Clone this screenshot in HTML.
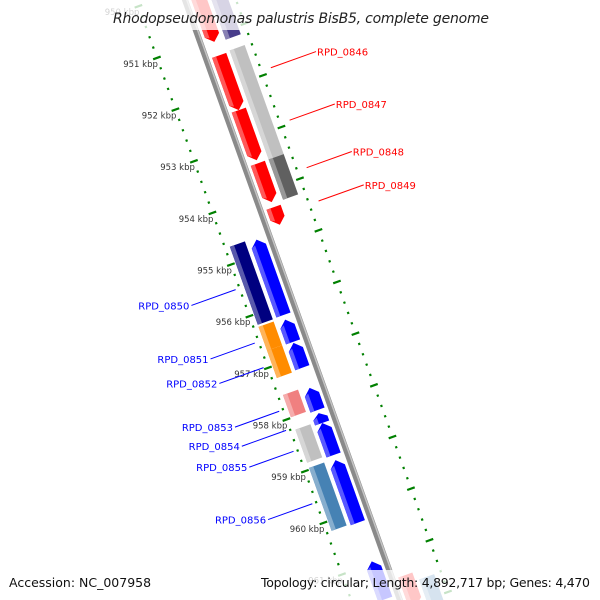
<!DOCTYPE html>
<html><head><meta charset="utf-8"><style>
html,body{margin:0;padding:0;background:#fff;width:600px;height:600px;overflow:hidden;}
svg{display:block;overflow:hidden;font-family:"DejaVu Sans","Liberation Sans",sans-serif;}
</style></head><body>
<svg id="map" width="600" height="600" viewBox="0 0 600 600" xmlns="http://www.w3.org/2000/svg">
<defs><clipPath id="frame"><rect x="0" y="0" width="600" height="600"/></clipPath></defs>
<rect x="0" y="0" width="600" height="600" fill="#fff"/>
<g clip-path="url(#frame)">
<g id="rot" transform="matrix(0.941,-0.337,0.337,0.941,185,0)"></g>
<g id="labels"></g>
</g>
<rect x="0" y="0" width="600" height="30" fill="#fff" fill-opacity="0.78"/>
<text x="113" y="23" font-size="14" font-style="italic" fill="#222" textLength="376">Rhodopseudomonas palustris BisB5, complete genome</text>
<rect x="0" y="570" width="600" height="30" fill="#fff" fill-opacity="0.78"/>
<text x="9" y="587" font-size="12.5" fill="#111">Accession: NC_007958</text>
<text x="261" y="587" font-size="12.5" fill="#111" textLength="329">Topology: circular; Length: 4,892,717 bp; Genes: 4,470</text>
</svg>
<script>
// gene data (kbp)
const fwdStart = [949.69, 951.34, 952.40, 953.43, 954.28, 961.40];
const fwdEnd   = [951.08, 952.40, 953.37, 954.18, 954.62, 962.00];
const fwdColor = ['#ff0000','#ff0000','#ff0000','#ff0000','#ff0000','#ff0000'];
const fwdLabel = ['', 'RPD_0846','RPD_0847','RPD_0848','RPD_0849',''];
const fwdCogStart = [949.82, 951.32, 953.43, 961.56];
const fwdCogEnd   = [951.11, 953.45, 954.21, 962.20];
const fwdCogColor = ['#483d8b','#c0c0c0','#606060','#4682b4'];
const revStart = [954.73, 956.28, 956.73, 957.60, 958.09, 958.28, 959.00, 960.96];
const revEnd   = [956.19, 956.71, 957.21, 958.03, 958.28, 958.90, 960.21, 961.69];
const revLabel = ['RPD_0850','RPD_0851','RPD_0852','RPD_0853','RPD_0854','RPD_0855','RPD_0856',''];
const revCogStart = [954.69, 956.24, 956.70, 957.56, 958.23, 958.97];
const revCogEnd   = [956.20, 956.70, 957.23, 957.99, 958.87, 960.19];
const revCogColor = ['#000080','#ff8c00','#ff8c00','#f08080','#c0c0c0','#4682b4'];
const tickKbp = [950, 951, 952, 953, 954, 955, 956, 957, 958, 959, 960, 961, 962];
const tickLabels = ['950 kbp','951 kbp','952 kbp','953 kbp','954 kbp','955 kbp','956 kbp','957 kbp','958 kbp','959 kbp','960 kbp','961 kbp','962 kbp'];

const NS='http://www.w3.org/2000/svg';
const rot=document.getElementById('rot');
const lab=document.getElementById('labels');
function S(k){return 45+(k-951)*54.9;}
function scr(v,s){return [185+0.941*v+0.337*s, -0.337*v+0.941*s];}
function mk(tag,attrs,parent){const e=document.createElementNS(NS,tag);for(const a in attrs)e.setAttribute(a,attrs[a]);parent.appendChild(e);return e;}
function lighten(c){const n=parseInt(c.slice(1),16);let r=n>>16,g=(n>>8)&255,b=n&255;r=Math.round(r+(255-r)*0.35);g=Math.round(g+(255-g)*0.35);b=Math.round(b+(255-b)*0.35);return 'rgb('+r+','+g+','+b+')';}

// backbone
let bb=mk('rect',{x:-3,y:-60,width:6,height:720,fill:'#8a8a8a'},rot);


let bb2=mk('rect',{x:1,y:-60,width:1.5,height:720,fill:'#c4c4c4'},rot);



function scaleLine(v,offset,name){
  for(let k=949;k<=962.4;k+=0.2){
    const kk=Math.round(k*10)/10;
    const s=S(kk+offset);
    const major=Math.abs(kk-Math.round(kk))<0.01;
    const r=mk('rect',major?{x:v-4,y:s-1,width:8,height:2.2,fill:'#008000'}:{x:v-1,y:s-1,width:2.2,height:2.2,fill:'#008000'},rot);
    
    
  }
}
scaleLine(-46,0,'left-scale');
scaleLine(48,0.95,'right-scale');

tickKbp.forEach((k,i)=>{
  const p=scr(-46,S(k));
  const t=mk('text',{x:p[0]+1,y:p[1]+9,'font-size':8.5,'text-anchor':'end',fill:'#333'},lab);
  t.textContent=tickLabels[i];
  
  
});

function gene(v0,v1,k0,k1,color,dir,name){
  const s0=S(k0),s1=S(k1);
  let h=Math.min(7,(s1-s0)*0.5);
  const vm=(v0+v1)/2;
  let pts;
  if(dir>0) pts=[[v0,s0],[v1,s0],[v1,s1-h],[vm,s1],[v0,s1-h]];
  else if(dir<0) pts=[[vm,s0],[v1,s0+h],[v1,s1],[v0,s1],[v0,s0+h]];
  else pts=[[v0,s0],[v1,s0],[v1,s1],[v0,s1]];
  const g=mk('g',{},rot);
  
  
  mk('polygon',{points:pts.map(p=>p.join(',')).join(' '),fill:color},g);
  const w=(v1-v0)*0.28;
  let hp;
  if(dir>0) hp=[[v0,s0],[v0+w,s0],[v0+w,s1-h*0.7],[v0,s1-h]];
  else if(dir<0) hp=[[v0,s0+h],[v0+w,s0+h*0.7],[v0+w,s1],[v0,s1]];
  else hp=[[v0,s0],[v0+w,s0],[v0+w,s1],[v0,s1]];
  mk('polygon',{points:hp.map(p=>p.join(',')).join(' '),fill:lighten(color)},g);
}
fwdStart.forEach((k,i)=>gene(6,21,k,fwdEnd[i],fwdColor[i],1,'cds-forward-'+i));
fwdCogStart.forEach((k,i)=>gene(25,41,k,fwdCogEnd[i],fwdCogColor[i],0,'cog-forward-'+i));
revStart.forEach((k,i)=>gene(-21,-6,k,revEnd[i],'#0000ff',-1,'cds-reverse-'+i));
revCogStart.forEach((k,i)=>gene(-41,-25,k,revCogEnd[i],revCogColor[i],0,'cog-reverse-'+i));

function label(v0,v1,k0,k1,txt,color,side){
  const m=S((k0+k1)/2);
  const a=scr(v0,m),b=scr(v1,m);
  const l=mk('line',{x1:a[0],y1:a[1],x2:b[0],y2:b[1],stroke:color,'stroke-width':1},lab);
  
  
  const t=mk('text',{x:side>0?b[0]+1:b[0]-2,y:b[1]+4,'font-size':10,fill:color,'text-anchor':side>0?'start':'end'},lab);
  t.textContent=txt;
  
  
}
fwdLabel.forEach((t,i)=>{if(t)label(58,106,fwdStart[i],fwdEnd[i],t,'#ff0000',1);});
revLabel.forEach((t,i)=>{if(t)label(-50,-97,revStart[i],revEnd[i],t,'#0000ff',-1);});
</script>
</body></html>
